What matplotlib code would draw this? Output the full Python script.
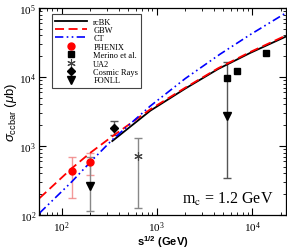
import matplotlib
matplotlib.use("Agg")
import matplotlib.pyplot as plt
from matplotlib.ticker import LogLocator, NullFormatter

# theory curves (sqrt(s) in GeV, sigma in mub)
rcbk_x = [341, 855, 1990, 4400, 9530, 22700]
rcbk_y = [1180, 3250, 6800, 13060, 22300, 38600]
gbw_x = [58.9, 127, 201, 341, 855, 1990, 4400, 9530, 22700]
gbw_y = [176, 470, 800, 1380, 3400, 7000, 13400, 23000, 40000]
ct_x = [58.9, 127, 216, 341, 855, 1990, 4630, 9530, 22700]
ct_y = [107, 300, 650, 1230, 3800, 9500, 21500, 41000, 85000]

# data points
phenix_x = [130, 200]
phenix_y = [439, 580]
phenix_lo = [175, 377]
phenix_hi = [700, 783]
merino_x = [5500, 7000, 14000]
merino_y = [9570, 12100, 22500]
ua2_x = [630]
ua2_y = [710]
ua2_lo = [125]
ua2_hi = [1290]
cosmic_x = [353]
cosmic_y = [1810]
cosmic_lo = [1460]
cosmic_hi = [2280]
fonll_x = [200, 5500]
fonll_y = [266, 2720]
fonll_lo = [113, 340]
fonll_hi = [700, 16700]

plt.rcParams['font.family'] = ['Liberation Serif', 'DejaVu Serif']
plt.rcParams['mathtext.fontset'] = 'custom'
plt.rcParams['mathtext.rm'] = 'Liberation Sans'
plt.rcParams['mathtext.it'] = 'Liberation Sans:italic'
plt.rcParams['mathtext.bf'] = 'Liberation Sans:bold'

fig = plt.figure(figsize=(2.87, 2.51), dpi=100)
ax = fig.add_axes([39/287, 1-216/251, 247/287, 207/251])


def errs(y, lo, hi):
    return [[a - b for a, b in zip(y, lo)], [b - a for a, b in zip(y, hi)]]


ax.errorbar(phenix_x, phenix_y, yerr=errs(phenix_y, phenix_lo, phenix_hi), fmt='none',
            ecolor='#f08080', elinewidth=1.0, capsize=3, capthick=1.0, alpha=0.8)
ax.errorbar(fonll_x[:1], fonll_y[:1], yerr=errs(fonll_y[:1], fonll_lo[:1], fonll_hi[:1]), fmt='none',
            ecolor='#888888', elinewidth=1.0, capsize=3, capthick=1.0)
ax.errorbar(fonll_x[1:], fonll_y[1:], yerr=errs(fonll_y[1:], fonll_lo[1:], fonll_hi[1:]), fmt='none',
            ecolor='#555555', elinewidth=1.0, capsize=3, capthick=1.0)
ax.errorbar(ua2_x, ua2_y, yerr=errs(ua2_y, ua2_lo, ua2_hi), fmt='none',
            ecolor='#888888', elinewidth=1.0, capsize=3, capthick=1.0)
ax.errorbar(cosmic_x, cosmic_y, yerr=errs(cosmic_y, cosmic_lo, cosmic_hi), fmt='none',
            ecolor='#555555', elinewidth=1.0, capsize=3, capthick=1.0)

ax.plot(rcbk_x, rcbk_y, color='black', lw=1.3, label='rcBK')
ax.plot(gbw_x, gbw_y, color='red', lw=1.3, dashes=(5, 2.5), label='GBW')
ax.plot(ct_x, ct_y, color='blue', lw=1.2, dashes=(5, 2, 1, 2, 1, 2), label='CT')

ax.plot(phenix_x, phenix_y, 'o', color='red', ms=5, ls='none', label='PHENIX')
ax.plot(merino_x, merino_y, 's', color='black', ms=4.5, ls='none', label='Merino et al.')
ax.plot(ua2_x, ua2_y, marker=(6, 2, 0), color='#444444', ms=6, mew=0.8, ls='none', label='UA2')
ax.plot(cosmic_x, cosmic_y, 'D', color='black', ms=4.5, ls='none', label='Cosmic Rays')
ax.plot(fonll_x, fonll_y, 'v', color='black', ms=6, ls='none', label='FONLL')

ax.set_xscale('log')
ax.set_yscale('log')
ax.set_xlim(58, 22700)
ax.set_ylim(100, 1e5)

ax.xaxis.set_major_locator(LogLocator(base=10, numticks=10))
ax.xaxis.set_minor_locator(LogLocator(base=10, subs=range(2, 10), numticks=20))
ax.yaxis.set_minor_locator(LogLocator(base=10, subs=range(2, 10), numticks=20))
ax.xaxis.set_minor_formatter(NullFormatter())
ax.yaxis.set_minor_formatter(NullFormatter())
ax.tick_params(which='both', direction='in', top=True, right=True, labelsize=8)
ax.tick_params(axis='x', pad=3)
ax.tick_params(axis='y', pad=2)
ax.tick_params(which='major', length=5, width=0.8)
ax.tick_params(which='minor', length=2.5, width=0.6)
for s in ax.spines.values():
    s.set_linewidth(0.9)

ax.set_xlabel(r'$\mathbf{s^{1/2}}$ (GeV)', family='Liberation Sans', fontweight='bold',
              fontsize=8)
ax.xaxis.set_label_coords(0.5, -0.088)
ax.set_ylabel(r'$\sigma_{\rm ccbar}$ ($\mu$b)', family='Liberation Sans', fontsize=9.5, labelpad=0)

ax.text(0.95, 0.04, r'm$_{\rm c}$ = 1.2 GeV', transform=ax.transAxes, ha='right', va='bottom',
        fontsize=11.5, math_fontfamily='stix')

leg = ax.legend(loc='upper left', bbox_to_anchor=(0.051, 0.97), fontsize=6, frameon=True,
                fancybox=False, edgecolor='#444444', framealpha=1, handlelength=3.8,
                labelspacing=0.05, borderpad=0.4, handletextpad=0.8, borderaxespad=0)
leg.get_frame().set_linewidth(0.8)

fig.savefig('out.png', dpi=100)
